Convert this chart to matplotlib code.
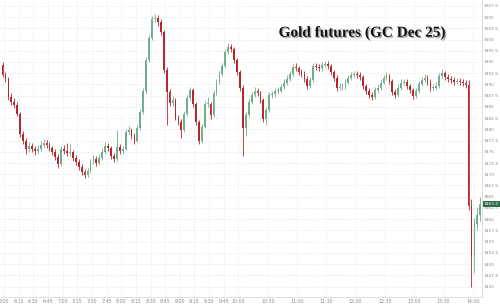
import matplotlib
matplotlib.use("Agg")
import matplotlib.pyplot as plt
import matplotlib.patheffects as pe
import numpy as np

# 3-minute candles, first one starts at 5:57 (minutes counted from 6:00)
first_open = 3494.4
closes = [3492.1, 3491.3, 3487.2, 3486.1, 3485.5, 3483.5, 3479.0, 3477.5, 3475.7, 3476.3,
          3475.7, 3475.2, 3475.7, 3476.6, 3477.0, 3476.6, 3475.9, 3475.0, 3473.9, 3472.3,
          3475.7, 3475.2, 3474.8, 3475.0, 3473.7, 3472.8, 3471.7, 3470.5, 3469.9, 3470.8,
          3472.8, 3473.5, 3472.6, 3473.7, 3475.0, 3476.3, 3475.9, 3474.1, 3473.5, 3476.1,
          3475.2, 3475.7, 3479.5, 3479.9, 3478.6, 3477.5, 3480.3, 3483.9, 3488.6, 3495.5,
          3500.4, 3504.6, 3504.8, 3503.9, 3501.7, 3493.3, 3488.4, 3485.9, 3486.6, 3482.6,
          3481.7, 3479.9, 3483.5, 3487.0, 3488.8, 3485.7, 3481.7, 3477.5, 3480.6, 3485.7,
          3485.7, 3483.2, 3488.1, 3490.6, 3492.4, 3494.1, 3497.3, 3498.4, 3497.9, 3495.5,
          3492.8, 3489.3, 3480.3, 3483.2, 3486.1, 3487.7, 3488.6, 3488.1, 3486.6, 3482.3,
          3484.3, 3487.7, 3487.9, 3488.6, 3488.6, 3489.5, 3490.4, 3491.3, 3492.4, 3493.9,
          3493.7, 3492.8, 3492.4, 3491.3, 3489.7, 3491.0, 3494.1, 3493.9, 3493.7, 3494.4,
          3494.6, 3494.1, 3492.8, 3491.5, 3489.3, 3489.5, 3489.5, 3490.4, 3491.5, 3492.1,
          3492.4, 3492.1, 3491.7, 3489.7, 3488.6, 3487.7, 3487.2, 3488.8, 3489.3, 3490.4,
          3491.5, 3491.9, 3490.8, 3488.4, 3487.7, 3489.3, 3490.4, 3490.6, 3489.7, 3488.8,
          3487.5, 3488.6, 3490.1, 3491.0, 3491.5, 3490.6, 3489.3, 3489.3, 3489.7, 3491.9,
          3492.6, 3491.7, 3491.3, 3491.0, 3490.6, 3490.8, 3490.6, 3490.4, 3489.9, 3463.0,
          3451.5, 3459.0, 3461.0, 3463.3]
highs = [3494.9, 3492.8, 3491.6, 3488.0, 3486.9, 3486.0, 3483.9, 3479.6, 3478.0, 3477.2,
         3476.9, 3476.4, 3476.5, 3477.3, 3477.8, 3477.6, 3477.1, 3476.4, 3475.6, 3474.4,
         3476.4, 3476.6, 3477.0, 3476.8, 3475.5, 3474.2, 3473.3, 3472.2, 3471.1, 3471.5,
         3473.4, 3474.3, 3474.0, 3474.4, 3475.8, 3477.1, 3476.9, 3476.3, 3474.8, 3479.9,
         3476.7, 3476.3, 3480.1, 3480.7, 3480.3, 3479.1, 3481.0, 3484.5, 3489.2, 3496.2,
         3501.0, 3505.3, 3505.6, 3505.4, 3504.5, 3502.2, 3493.8, 3489.0, 3487.4, 3487.0,
         3483.2, 3482.2, 3484.1, 3487.6, 3489.5, 3489.2, 3486.2, 3482.1, 3481.3, 3486.4,
         3487.3, 3486.2, 3488.8, 3491.2, 3493.0, 3494.8, 3497.9, 3499.2, 3499.0, 3498.3,
         3495.9, 3493.3, 3489.8, 3483.9, 3486.8, 3488.4, 3489.4, 3489.2, 3488.6, 3487.0,
         3484.9, 3488.3, 3488.6, 3489.3, 3489.4, 3490.2, 3491.1, 3492.0, 3493.1, 3494.6,
         3494.7, 3494.2, 3493.4, 3492.9, 3491.8, 3491.7, 3494.8, 3494.8, 3494.5, 3495.1,
         3495.3, 3495.2, 3494.6, 3493.3, 3492.0, 3490.3, 3490.4, 3491.1, 3492.2, 3492.8,
         3493.1, 3493.0, 3492.7, 3492.2, 3490.2, 3489.1, 3488.4, 3489.5, 3490.0, 3491.1,
         3492.2, 3492.7, 3492.4, 3491.2, 3489.0, 3490.0, 3491.1, 3491.3, 3491.1, 3490.2,
         3489.3, 3489.3, 3490.8, 3491.7, 3492.3, 3492.0, 3491.1, 3490.1, 3490.6, 3492.6,
         3493.4, 3493.1, 3492.3, 3491.9, 3491.6, 3491.5, 3491.4, 3491.2, 3491.0, 3491.0,
         3464.5, 3460.2, 3462.8, 3465.0]
lows = [3491.6, 3490.6, 3486.5, 3485.4, 3484.8, 3482.9, 3478.2, 3476.8, 3474.6, 3475.0,
        3474.9, 3474.3, 3474.6, 3475.2, 3476.0, 3475.8, 3475.1, 3474.2, 3473.1, 3471.5,
        3471.9, 3474.5, 3474.0, 3474.1, 3472.9, 3472.0, 3471.0, 3469.8, 3469.2, 3469.4,
        3470.3, 3472.2, 3471.8, 3472.0, 3473.2, 3474.6, 3475.2, 3473.5, 3472.7, 3473.0,
        3474.4, 3474.5, 3475.3, 3478.8, 3477.9, 3476.8, 3477.1, 3479.9, 3483.4, 3488.2,
        3495.0, 3500.0, 3503.9, 3503.1, 3501.0, 3492.6, 3481.0, 3485.2, 3485.1, 3482.0,
        3480.9, 3478.0, 3479.4, 3483.0, 3486.5, 3485.0, 3481.0, 3476.8, 3477.0, 3480.2,
        3485.0, 3482.4, 3482.8, 3487.6, 3490.1, 3491.9, 3493.7, 3496.8, 3497.2, 3494.8,
        3492.0, 3488.6, 3474.0, 3478.5, 3482.7, 3485.6, 3487.1, 3487.4, 3485.9, 3481.6,
        3480.9, 3483.8, 3487.0, 3487.3, 3487.8, 3488.0, 3489.0, 3489.9, 3490.8, 3491.9,
        3493.0, 3492.1, 3491.7, 3490.6, 3488.9, 3489.2, 3490.6, 3493.2, 3493.0, 3493.1,
        3493.8, 3493.4, 3492.1, 3490.8, 3488.6, 3488.7, 3488.8, 3489.0, 3490.0, 3491.0,
        3491.6, 3491.5, 3491.0, 3489.0, 3487.9, 3487.0, 3486.5, 3486.8, 3488.2, 3488.8,
        3490.0, 3491.0, 3490.1, 3487.7, 3486.9, 3487.2, 3488.8, 3489.9, 3489.0, 3488.1,
        3486.8, 3487.0, 3488.1, 3489.6, 3490.5, 3489.9, 3488.6, 3488.6, 3488.8, 3489.2,
        3491.3, 3491.0, 3490.6, 3490.3, 3489.9, 3490.0, 3489.9, 3489.7, 3489.3, 3462.0,
        3445.0, 3448.0, 3457.5, 3459.5]

tick_minutes = [0, 15, 30, 45, 60, 75, 90, 105, 120, 135, 150, 165, 180, 195, 210, 225, 240,
                270, 300, 330, 360, 390, 420, 450, 480]
tick_labels = ["6:00", "6:15", "6:30", "6:45", "7:00", "7:15", "7:30", "7:45", "8:00", "8:15",
               "8:30", "8:45", "9:00", "9:15", "9:30", "9:45", "10:00", "10:30", "11:00",
               "11:30", "12:00", "12:30", "13:00", "13:30", "14:00"]
price_ticks = np.arange(3445, 3508, 2.5)
last_price = 3463.3

up_col = "#74ad8d"
down_col = "#b7282e"

closes = np.array(closes)
opens = np.concatenate([[first_open], closes[:-1]])
highs = np.maximum(np.array(highs), np.maximum(opens, closes))
lows = np.minimum(np.array(lows), np.minimum(opens, closes))
t = np.arange(len(closes)) * 3 - 1.5
up = closes >= opens
cols = np.where(up, up_col, down_col)

fig = plt.figure(figsize=(5, 3.07), dpi=100)
ax = fig.add_axes([0, 0.033, 0.964, 0.967])

ax.vlines(t, lows, highs, colors=cols, linewidth=0.6, zorder=2)
body = np.abs(closes - opens)
body = np.maximum(body, 0.15)
ax.bar(t, body, bottom=np.minimum(opens, closes), width=1.8, color=cols,
       linewidth=0, zorder=3)

ax.set_xlim(-4.1, 489.3)
ax.set_ylim(3442.7, 3508.8)

ax.set_xticks(tick_minutes)
ax.set_xticklabels(tick_labels)
ax.set_yticks(price_ticks)
ax.set_yticklabels([f"{v:g}" for v in price_ticks])
ax.yaxis.tick_right()
ax.tick_params(axis="x", length=0, labelsize=3.4, colors="#8a8a8a", pad=1.5)
ax.tick_params(axis="y", length=0, labelsize=3.1, colors="#8a8a8a", pad=1)
ax.grid(True, color="#e8e8e8", linestyle=(0, (1.5, 1.5)), linewidth=0.6, zorder=0)
ax.set_axisbelow(True)

for s in ["top", "left"]:
    ax.spines[s].set_visible(False)
for s in ["right", "bottom"]:
    ax.spines[s].set_color("#d8d8d8")
    ax.spines[s].set_linewidth(0.6)

# last price tag
ax.text(1.004, last_price, f"{last_price:.1f}", transform=ax.get_yaxis_transform(),
        fontsize=3.1, color="white", va="center", ha="left",
        bbox=dict(boxstyle="square,pad=0.2", fc="#2f6b47", ec="none"), zorder=5,
        clip_on=False)

fig.text(0.724, 0.892, "Gold futures (GC Dec 25)", fontsize=11, fontweight="bold",
         family="Liberation Serif", ha="center", va="center", color="#111111",
         path_effects=[pe.withSimplePatchShadow(offset=(1, -1), shadow_rgbFace="#777777",
                                                alpha=0.6)])

fig.savefig("out.png", dpi=100, facecolor="white")
